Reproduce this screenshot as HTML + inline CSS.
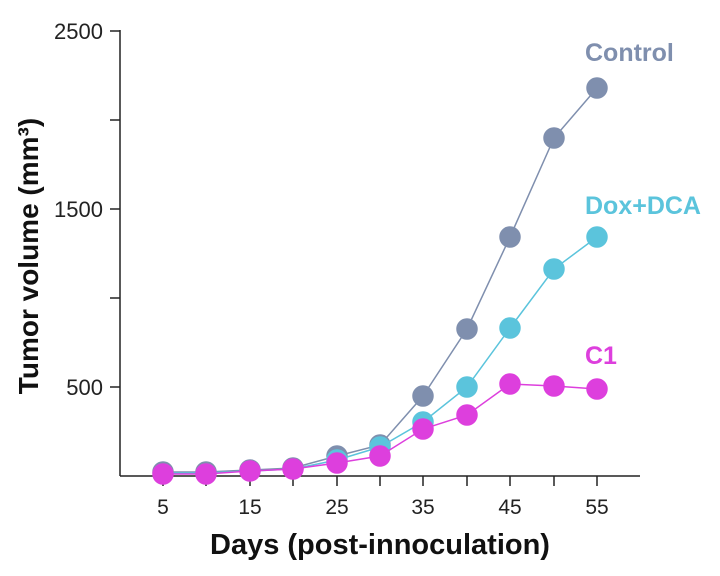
<!DOCTYPE html>
<html><head><style>body{margin:0;background:#fff}svg{display:block}</style></head><body>
<svg width="720" height="576" xmlns="http://www.w3.org/2000/svg" font-family="Liberation Sans, sans-serif">
<g stroke="#222" stroke-width="1.5" fill="none">
<line x1="120" y1="30" x2="120" y2="476"/>
<line x1="120" y1="476" x2="640" y2="476"/>
<line x1="110" y1="31" x2="120" y2="31"/>
<line x1="110" y1="120" x2="120" y2="120"/>
<line x1="110" y1="209" x2="120" y2="209"/>
<line x1="110" y1="298" x2="120" y2="298"/>
<line x1="110" y1="387" x2="120" y2="387"/>
<line x1="163" y1="476" x2="163" y2="486"/><line x1="206" y1="476" x2="206" y2="486"/><line x1="250" y1="476" x2="250" y2="486"/><line x1="293" y1="476" x2="293" y2="486"/><line x1="337" y1="476" x2="337" y2="486"/><line x1="380" y1="476" x2="380" y2="486"/><line x1="423" y1="476" x2="423" y2="486"/><line x1="467" y1="476" x2="467" y2="486"/><line x1="510" y1="476" x2="510" y2="486"/><line x1="554" y1="476" x2="554" y2="486"/><line x1="597" y1="476" x2="597" y2="486"/>
</g>
<g font-size="22" fill="#222" text-anchor="end">
<text x="103" y="39">2500</text><text x="103" y="217">1500</text><text x="103" y="395">500</text>
</g>
<g font-size="21" fill="#222" text-anchor="middle">
<text x="163" y="514">5</text><text x="250" y="514">15</text><text x="337" y="514">25</text><text x="423" y="514">35</text><text x="510" y="514">45</text><text x="597" y="514">55</text>
</g>
<text x="380" y="554" font-size="29" font-weight="bold" text-anchor="middle" fill="#111">Days (post-innoculation)</text>
<text transform="translate(38,256) rotate(-90)" font-size="28" font-weight="bold" text-anchor="middle" fill="#111">Tumor volume (mm³)</text>
<g fill="#7f8fae" stroke="#7f8fae" stroke-width="1.5">
<polyline fill="none" points="163,472 206,472 250,470 293,468 337,456 380,445 423,396 467,329 510,237 554,138 597,88"/>
<circle cx="163" cy="472" r="10"/><circle cx="206" cy="472" r="10"/><circle cx="250" cy="470" r="10"/><circle cx="293" cy="468" r="10"/><circle cx="337" cy="456" r="10"/><circle cx="380" cy="445" r="10"/><circle cx="423" cy="396" r="10"/><circle cx="467" cy="329" r="10"/><circle cx="510" cy="237" r="10"/><circle cx="554" cy="138" r="10"/><circle cx="597" cy="88" r="10"/>
</g>
<g fill="#5bc4dc" stroke="#5bc4dc" stroke-width="1.5">
<polyline fill="none" points="163,473 206,473 250,471 293,469 337,460 380,447 423,422 467,387 510,328 554,269 597,237"/>
<circle cx="337" cy="460" r="10"/><circle cx="380" cy="447" r="10"/><circle cx="423" cy="422" r="10"/><circle cx="467" cy="387" r="10"/><circle cx="510" cy="328" r="10"/><circle cx="554" cy="269" r="10"/><circle cx="597" cy="237" r="10"/>
</g>
<g fill="#dd3fdd" stroke="#dd3fdd" stroke-width="1.5">
<polyline fill="none" points="163,474 206,474 250,471 293,469 337,463 380,456 423,429 467,415 510,384 554,386 597,389"/>
<circle cx="163" cy="474" r="10"/><circle cx="206" cy="474" r="10"/><circle cx="250" cy="471" r="10"/><circle cx="293" cy="469" r="10"/><circle cx="337" cy="463" r="10"/><circle cx="380" cy="456" r="10"/><circle cx="423" cy="429" r="10"/><circle cx="467" cy="415" r="10"/><circle cx="510" cy="384" r="10"/><circle cx="554" cy="386" r="10"/><circle cx="597" cy="389" r="10"/>
</g>
<text x="585" y="61" font-size="25" font-weight="bold" fill="#7f8fae">Control</text>
<text x="585" y="214" font-size="25" font-weight="bold" fill="#5bc4dc">Dox+DCA</text>
<text x="585" y="364" font-size="25" font-weight="bold" fill="#dd3fdd">C1</text>
</svg>
</body></html>
